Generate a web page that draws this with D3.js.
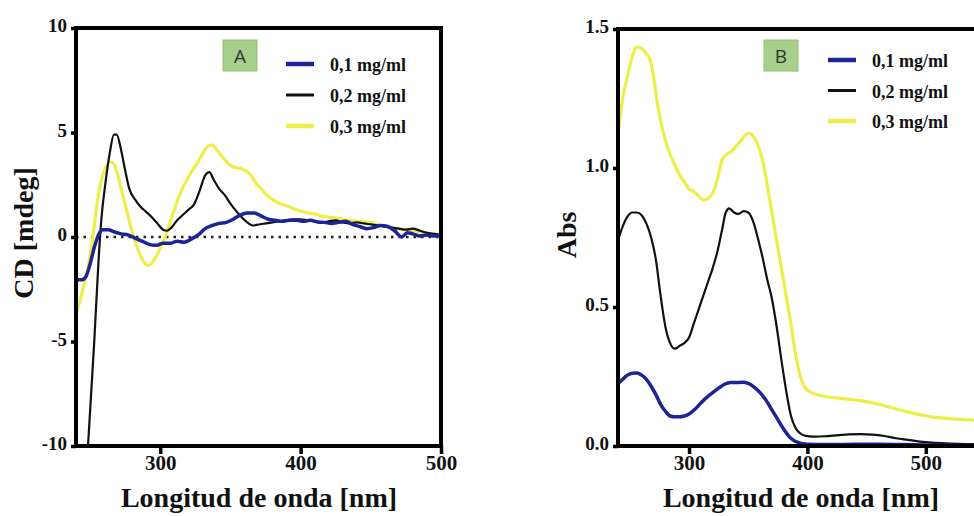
<!DOCTYPE html>
<html>
<head>
<meta charset="utf-8">
<script src="https://cdn.jsdelivr.net/npm/d3@7/dist/d3.min.js"></script>
<style>
  body { margin: 0; background: #fff; }
  svg { display: block; }
</style>
</head>
<body>
<div id="chart"></div>
<script>
// series labels / colours
var seriesNames = ["0,1 mg/ml", "0,2 mg/ml", "0,3 mg/ml"];
var seriesColors = ["#1c2496", "#111111", "#eeee4a"];
var seriesWidths = [3.5, 2.2, 3.2];

// panel A : CD [mdeg] vs wavelength, [nm, value]
var cd01 = [[240,-2.05],[244,-2.05],[247,-1.9],[250,-1.3],[253,-0.5],[256,0.1],[259,0.35],[263,0.35],[267,0.25],[272,0.15],[277,0.1],[282,-0.05],[287,-0.2],[292,-0.35],[297,-0.4],[302,-0.3],[307,-0.3],[312,-0.2],[317,-0.25],[322,-0.1],[327,0.1],[332,0.4],[337,0.55],[342,0.65],[347,0.7],[352,0.85],[357,1.05],[362,1.15],[367,1.15],[372,1.0],[377,0.85],[382,0.8],[387,0.75],[392,0.8],[397,0.8],[402,0.75],[407,0.8],[412,0.72],[417,0.7],[422,0.65],[427,0.7],[432,0.75],[437,0.6],[442,0.5],[447,0.4],[452,0.45],[457,0.55],[462,0.5],[467,0.3],[472,0.0],[476,0.2],[480,0.15],[485,0.05],[490,0.1],[495,0.05],[500,0.1]];
var cd02 = [[240,-17],[246,-12.5],[249,-9.5],[253,-5],[256,-1.2],[258,0.8],[261,2.6],[264,4.0],[267,4.9],[269,4.9],[272,4.2],[275,3.2],[278,2.3],[282,1.8],[286,1.45],[290,1.2],[294,0.95],[298,0.65],[302,0.35],[305,0.3],[308,0.45],[312,0.8],[316,1.05],[320,1.3],[324,1.55],[328,2.2],[332,2.95],[335,3.1],[338,2.75],[342,2.3],[346,2.0],[350,1.6],[354,1.25],[358,0.95],[362,0.7],[366,0.55],[370,0.6],[375,0.65],[380,0.7],[385,0.75],[390,0.8],[395,0.85],[400,0.85],[405,0.8],[410,0.75],[415,0.7],[420,0.75],[425,0.8],[430,0.7],[435,0.65],[440,0.7],[445,0.65],[450,0.6],[455,0.55],[460,0.5],[465,0.45],[470,0.4],[475,0.35],[480,0.4],[485,0.3],[490,0.2],[495,0.15],[500,0.1]];
var cd03 = [[240,-3.65],[243,-3.0],[246,-2.2],[249,-1.3],[252,0.0],[255,1.6],[258,2.7],[261,3.3],[264,3.6],[267,3.5],[270,2.9],[273,2.1],[276,1.3],[279,0.5],[282,-0.2],[285,-0.75],[288,-1.15],[291,-1.35],[294,-1.25],[297,-0.95],[300,-0.55],[303,-0.1],[306,0.5],[310,1.3],[314,2.05],[318,2.6],[322,3.1],[326,3.5],[330,3.95],[334,4.35],[337,4.4],[340,4.2],[344,3.85],[348,3.55],[352,3.35],[356,3.3],[360,3.2],[364,3.0],[368,2.6],[372,2.3],[376,2.0],[380,1.8],[385,1.6],[390,1.5],[395,1.35],[400,1.25],[405,1.15],[410,1.1],[415,1.0],[420,0.95],[425,0.9],[430,0.85],[435,0.8],[440,0.75],[445,0.72],[450,0.7],[455,0.6],[460,0.5],[465,0.45],[470,0.4],[475,0.35],[480,0.3],[485,0.25],[490,0.2],[495,0.15],[500,0.1]];

// panel B : Abs vs wavelength
var abs01 = [[240,0.225],[244,0.24],[248,0.255],[252,0.262],[256,0.263],[260,0.255],[264,0.24],[268,0.215],[272,0.185],[276,0.15],[280,0.125],[284,0.108],[288,0.105],[292,0.105],[296,0.108],[300,0.115],[305,0.132],[310,0.155],[315,0.175],[320,0.192],[325,0.208],[330,0.222],[335,0.228],[340,0.228],[345,0.229],[350,0.225],[355,0.212],[360,0.192],[365,0.165],[370,0.13],[375,0.095],[380,0.06],[385,0.032],[390,0.016],[395,0.009],[400,0.006],[420,0.005],[440,0.006],[460,0.006],[480,0.005],[500,0.004],[525,0.003],[550,0.003]];
var abs02 = [[240,0.74],[244,0.79],[248,0.825],[252,0.84],[256,0.84],[260,0.83],[264,0.8],[268,0.75],[272,0.67],[276,0.54],[280,0.43],[284,0.37],[288,0.35],[292,0.36],[296,0.37],[300,0.39],[304,0.44],[308,0.49],[312,0.54],[316,0.59],[320,0.64],[324,0.7],[328,0.78],[331,0.84],[334,0.855],[338,0.84],[342,0.835],[346,0.845],[350,0.84],[354,0.81],[358,0.75],[362,0.68],[366,0.6],[370,0.53],[374,0.43],[378,0.31],[382,0.2],[386,0.11],[390,0.065],[394,0.045],[398,0.037],[405,0.034],[415,0.035],[425,0.038],[435,0.042],[445,0.043],[455,0.041],[465,0.036],[475,0.028],[485,0.022],[495,0.016],[505,0.012],[520,0.009],[535,0.007],[550,0.006]];
var abs03 = [[240,1.125],[244,1.25],[248,1.33],[252,1.4],[256,1.435],[260,1.43],[264,1.41],[267,1.39],[270,1.33],[273,1.24],[276,1.17],[280,1.1],[284,1.05],[288,1.01],[292,0.975],[296,0.95],[300,0.925],[304,0.915],[308,0.9],[312,0.885],[316,0.89],[320,0.91],[324,0.96],[328,1.03],[332,1.05],[336,1.06],[340,1.08],[344,1.1],[348,1.12],[351,1.125],[354,1.115],[358,1.085],[362,1.03],[366,0.94],[370,0.84],[374,0.74],[378,0.64],[382,0.54],[386,0.44],[390,0.33],[394,0.25],[398,0.21],[402,0.195],[408,0.185],[415,0.178],[425,0.173],[435,0.168],[445,0.163],[455,0.155],[465,0.145],[475,0.133],[485,0.122],[495,0.113],[505,0.105],[515,0.1],[525,0.097],[540,0.093],[550,0.09]];

// ticks
var xTicks = [300, 400, 500];
var cdTicks = [-10, -5, 0, 5, 10];
var absTicks = [0, 0.5, 1.0, 1.5];

var serif = "'Liberation Serif', 'Times New Roman', serif";

var svg = d3.select("#chart").append("svg")
    .attr("width", 974)
    .attr("height", 516);

function drawPanel(cfg) {
    var x = d3.scaleLinear().domain(cfg.xDomain).range(cfg.xRange);
    var y = d3.scaleLinear().domain(cfg.yDomain).range(cfg.yRange);
    var left = cfg.xRange[0], right = cfg.xRange[1];
    var top = cfg.yRange[1], bottom = cfg.yRange[0];

    var g = svg.append("g");

    //clip
    svg.append("clipPath").attr("id", cfg.id + "clip")
        .append("rect")
        .attr("x", left).attr("y", top)
        .attr("width", right - left).attr("height", bottom - top);

    //zero reference
    if (cfg.zeroLine) {
        g.append("line")
            .attr("x1", left).attr("x2", right)
            .attr("y1", y(0)).attr("y2", y(0))
            .attr("stroke", "#222")
            .attr("stroke-width", 2.5)
            .attr("stroke-dasharray", "2.5,5");
    }

    //curves
    var line = d3.line()
        .x(function(d) { return x(d[0]); })
        .y(function(d) { return y(d[1]); })
        .curve(d3.curveMonotoneX);

    var plot = g.append("g").attr("clip-path", "url(#" + cfg.id + "clip)");
    [2, 1, 0].forEach(function(i) {
        plot.append("path")
            .datum(cfg.series[i])
            .attr("fill", "none")
            .attr("stroke", seriesColors[i])
            .attr("stroke-width", seriesWidths[i])
            .attr("stroke-linejoin", "round")
            .attr("d", line);
    });

    //x axis
    var xAxis = g.append("g")
        .attr("transform", "translate(0," + bottom + ")")
        .call(d3.axisBottom(x).tickValues(xTicks).tickSize(8).tickSizeOuter(0).tickFormat(d3.format("d")));
    xAxis.select(".domain").remove();
    xAxis.selectAll(".tick line").attr("stroke", "#000").attr("stroke-width", 3.5);
    xAxis.selectAll(".tick text")
        .attr("y", 24)
        .attr("dy", 0)
        .style("font-family", serif)
        .style("font-weight", "bold")
        .style("font-size", "21px")
        .attr("fill", "#111");

    //y axis
    var yAxis = g.append("g")
        .attr("transform", "translate(" + left + ",0)")
        .call(d3.axisLeft(y).tickValues(cfg.yTicks).tickSize(5).tickSizeOuter(0).tickFormat(cfg.yFormat));
    yAxis.select(".domain").remove();
    yAxis.selectAll(".tick line").attr("stroke", "#000").attr("stroke-width", 3.5);
    yAxis.selectAll(".tick text")
        .attr("x", -9)
        .attr("dy", "0.2em")
        .style("font-family", serif)
        .style("font-weight", "bold")
        .style("font-size", "19px")
        .attr("fill", "#111");

    //frame
    g.append("path")
        .attr("fill", "none")
        .attr("stroke", "#000")
        .attr("stroke-width", 4)
        .attr("d", "M" + left + "," + bottom + "H" + right + "M" + left + "," + top + "H" + right +
            "M" + left + "," + (top - 2) + "V" + (bottom + 2) + "M" + right + "," + (top - 2) + "V" + (bottom + 2));

    //axis titles
    g.append("text")
        .attr("x", cfg.xTitleX)
        .attr("y", 507)
        .attr("text-anchor", "middle")
        .style("font-family", serif)
        .style("font-weight", "bold")
        .style("font-size", "28px")
        .attr("fill", "#111")
        .text("Longitud de onda [nm]");

    g.append("text")
        .attr("transform", "translate(" + cfg.yTitleX + "," + cfg.yTitleY + ") rotate(-90)")
        .attr("text-anchor", "middle")
        .style("font-family", serif)
        .style("font-weight", "bold")
        .style("font-size", "28px")
        .attr("fill", "#111")
        .text(cfg.yTitle);

    //panel label
    var tag = g.append("g").attr("transform", "translate(" + cfg.tagX + ",40)");
    tag.append("rect")
        .attr("width", 34).attr("height", 31)
        .attr("fill", "#a6cf8c")
        .attr("stroke", "#93c07a")
        .attr("stroke-width", 1);
    tag.append("text")
        .attr("x", 17).attr("y", 23)
        .attr("text-anchor", "middle")
        .style("font-family", "'Open Sans', 'Liberation Sans', sans-serif")
        .style("font-size", "19px")
        .attr("fill", "#333")
        .text(cfg.tag);

    //legend
    var lg = g.append("g").attr("transform", "translate(" + cfg.legendX + "," + cfg.legendY + ")");
    seriesNames.forEach(function(name, i) {
        var row = lg.append("g").attr("transform", "translate(0," + (i * cfg.legendStep) + ")");
        row.append("line")
            .attr("x1", 0).attr("x2", 28)
            .attr("stroke", seriesColors[i])
            .attr("stroke-width", i == 1 ? 3 : 4.5);
        row.append("text")
            .attr("x", 44).attr("y", 7)
            .style("font-family", serif)
            .style("font-weight", "bold")
            .style("font-size", "18px")
            .attr("fill", "#111")
            .text(name);
    });
}

drawPanel({
    id: "A",
    series: [cd01, cd02, cd03],
    xDomain: [240, 500], xRange: [76, 441],
    yDomain: [-10, 10], yRange: [446, 28],
    yTicks: cdTicks, yFormat: function(d) { return String(d); },
    zeroLine: true,
    xTitleX: 259,
    yTitle: "CD [mdeg]", yTitleX: 33, yTitleY: 233,
    tag: "A", tagX: 223,
    legendX: 286, legendY: 64, legendStep: 31
});

drawPanel({
    id: "B",
    series: [abs01, abs02, abs03],
    xDomain: [240, 550], xRange: [618, 985],
    yDomain: [0, 1.5], yRange: [446, 29],
    yTicks: absTicks, yFormat: d3.format(".1f"),
    zeroLine: false,
    xTitleX: 801,
    yTitle: "Abs", yTitleX: 576, yTitleY: 235,
    tag: "B", tagX: 764,
    legendX: 828, legendY: 60, legendStep: 30.5
});
</script>
</body>
</html>
